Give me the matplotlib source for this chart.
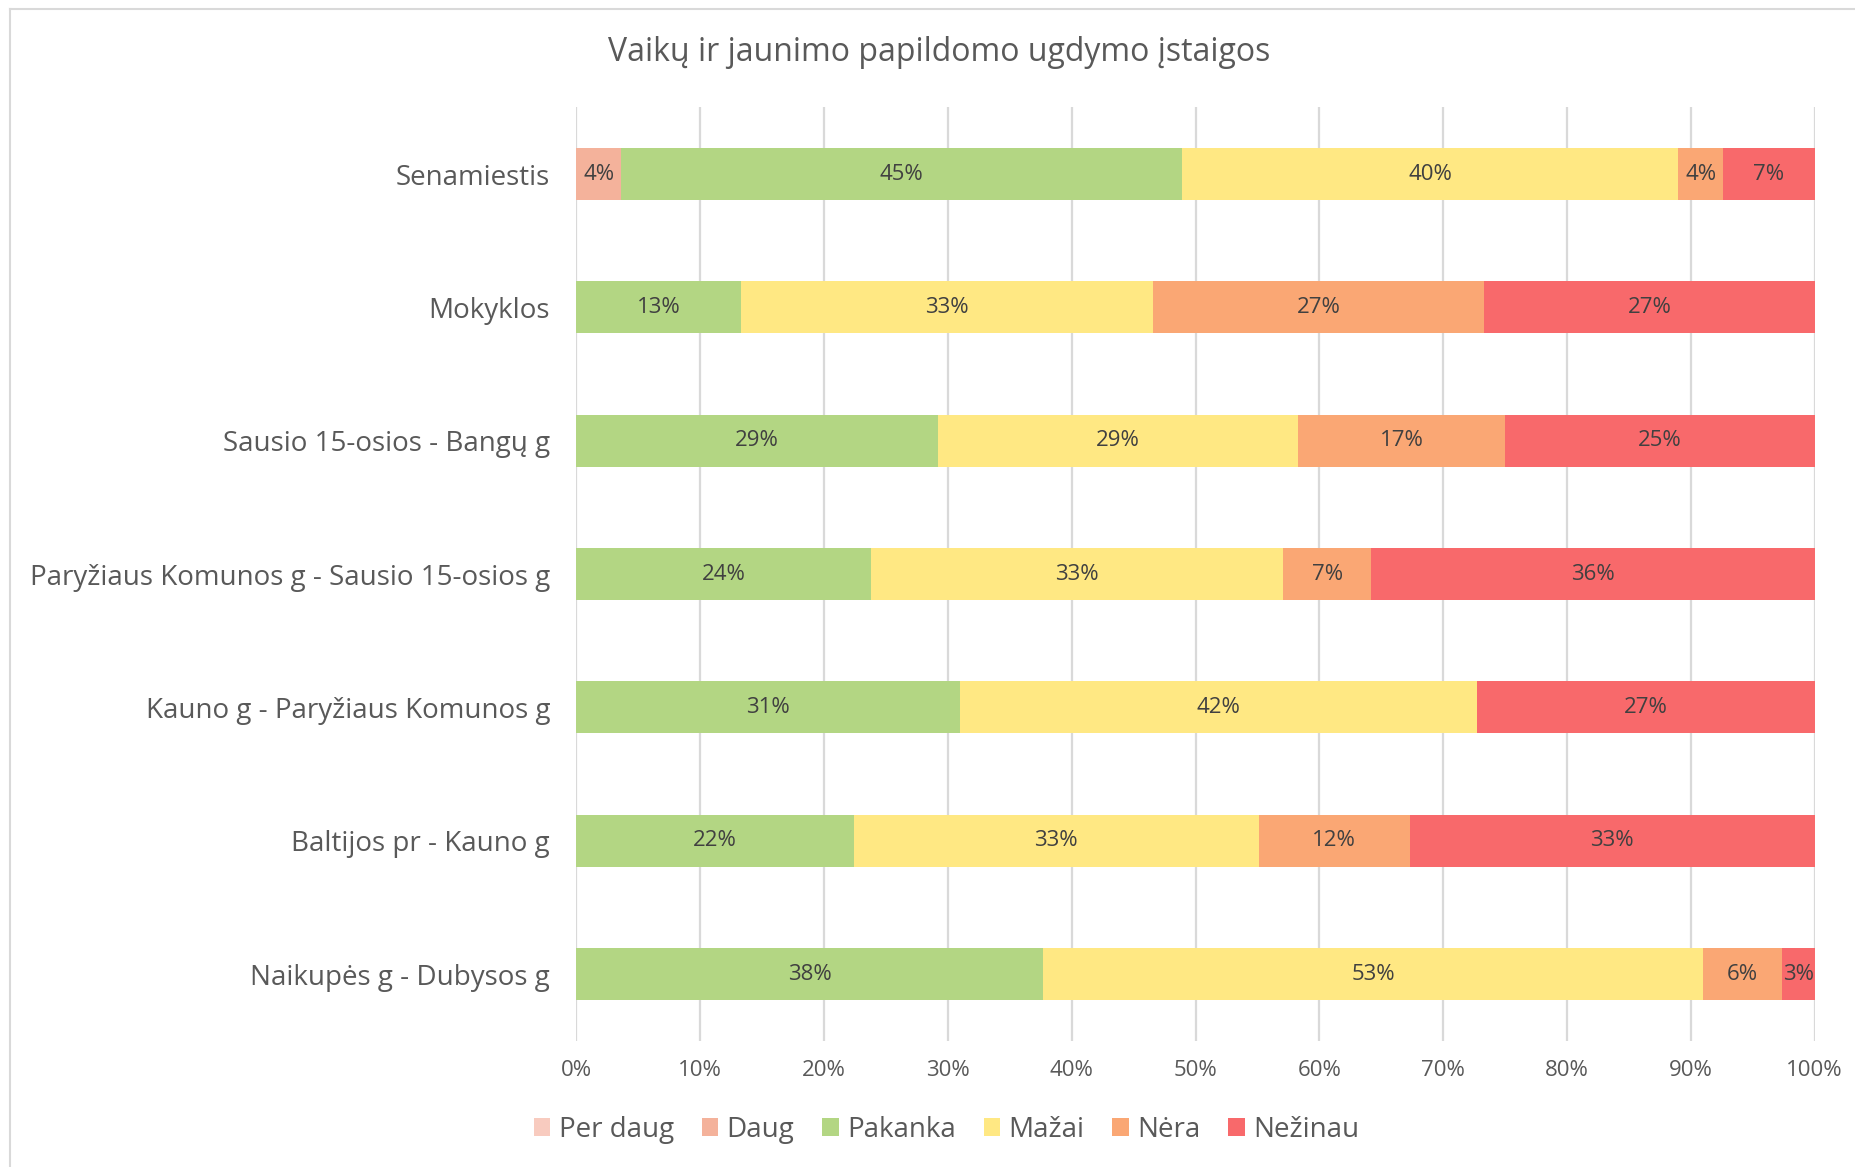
import matplotlib
matplotlib.use("Agg")
import matplotlib.pyplot as plt
from matplotlib import font_manager
from matplotlib.patches import Patch
import numpy as np

# pick a narrow-ish sans that is installed (Calibri is not available)
available = {f.name for f in font_manager.fontManager.ttflist}
family = "DejaVu Sans"
for name in ["Liberation Sans Narrow", "Open Sans", "Noto Sans"]:
    if name in available:
        family = name
        break
plt.rcParams["font.family"] = [family, "DejaVu Sans"]

title = "Vaikų ir jaunimo papildomo ugdymo įstaigos"
categories = [
    "Senamiestis",
    "Mokyklos",
    "Sausio 15-osios - Bangų g",
    "Paryžiaus Komunos g - Sausio 15-osios g",
    "Kauno g - Paryžiaus Komunos g",
    "Baltijos pr - Kauno g",
    "Naikupės g - Dubysos g",
]
series_names = ["Per daug", "Daug", "Pakanka", "Mažai", "Nėra", "Nežinau"]
colors = ["#F8CBBF", "#F4B29B", "#B3D683", "#FFE883", "#FAA774", "#F8696B"]

# shares in %, read from the segment edges
per_daug = [0.0, 0.0, 0.0, 0.0, 0.0, 0.0, 0.0]
daug     = [3.6, 0.0, 0.0, 0.0, 0.0, 0.0, 0.0]
pakanka  = [45.3, 13.3, 29.2, 23.8, 31.0, 22.4, 37.7]
mazai    = [40.1, 33.3, 29.1, 33.3, 41.7, 32.7, 53.3]
nera     = [3.6, 26.7, 16.7, 7.1, 0.0, 12.2, 6.4]
nezinau  = [7.4, 26.7, 25.0, 35.8, 27.3, 32.7, 2.6]
values = [per_daug, daug, pakanka, mazai, nera, nezinau]

fig = plt.figure(figsize=(18.56, 11.67), dpi=100)
ax = fig.add_axes([0.3106, 0.1081, 0.9777 - 0.3106, 0.908 - 0.1081])

y = np.arange(len(categories))
left = np.zeros(len(categories))
for vals, col in zip(values, colors):
    vals = np.array(vals)
    ax.barh(y, vals, left=left, height=0.39, color=col, zorder=3)
    for yi, v, l in zip(y, vals, left):
        if v > 0:
            ax.text(l + v / 2, yi, f"{round(v):.0f}%", ha="center", va="center",
                    fontsize=16, color="#404040", zorder=4)
    left += vals

ax.set_xlim(0, 100)
ax.set_ylim(len(categories) - 0.5, -0.5)
ax.set_xticks(np.arange(0, 101, 10))
ax.set_xticklabels([f"{t}%" for t in range(0, 101, 10)], fontsize=16, color="#595959")
ax.set_yticks(y)
ax.set_yticklabels(categories, fontsize=20, color="#595959")
ax.tick_params(axis="both", length=0)
ax.tick_params(axis="y", pad=19)
ax.tick_params(axis="x", pad=14)
ax.grid(axis="x", color="#D9D9D9", linewidth=1.6, zorder=0)
for s in ax.spines.values():
    s.set_visible(False)

fig.text(0.506, 0.955, title, ha="center", va="center", fontsize=23, color="#595959")

handles = [Patch(facecolor=c, edgecolor="none") for c in colors]
fig.legend(handles, series_names, loc="center", bbox_to_anchor=(0.51, 0.032), ncol=6,
           frameon=False, fontsize=20, handlelength=0.6, handleheight=0.6,
           handletextpad=0.3, columnspacing=1.0, labelcolor="#595959")

# chart area frame (top and left edges visible)
fig.add_artist(plt.Line2D([10 / 1856, 1.0], [1 - 9 / 1167, 1 - 9 / 1167],
                          transform=fig.transFigure, color="#D9D9D9", linewidth=1.5))
fig.add_artist(plt.Line2D([10 / 1856, 10 / 1856], [0.0, 1 - 9 / 1167],
                          transform=fig.transFigure, color="#D9D9D9", linewidth=1.5))

fig.savefig("out.png", dpi=100)
